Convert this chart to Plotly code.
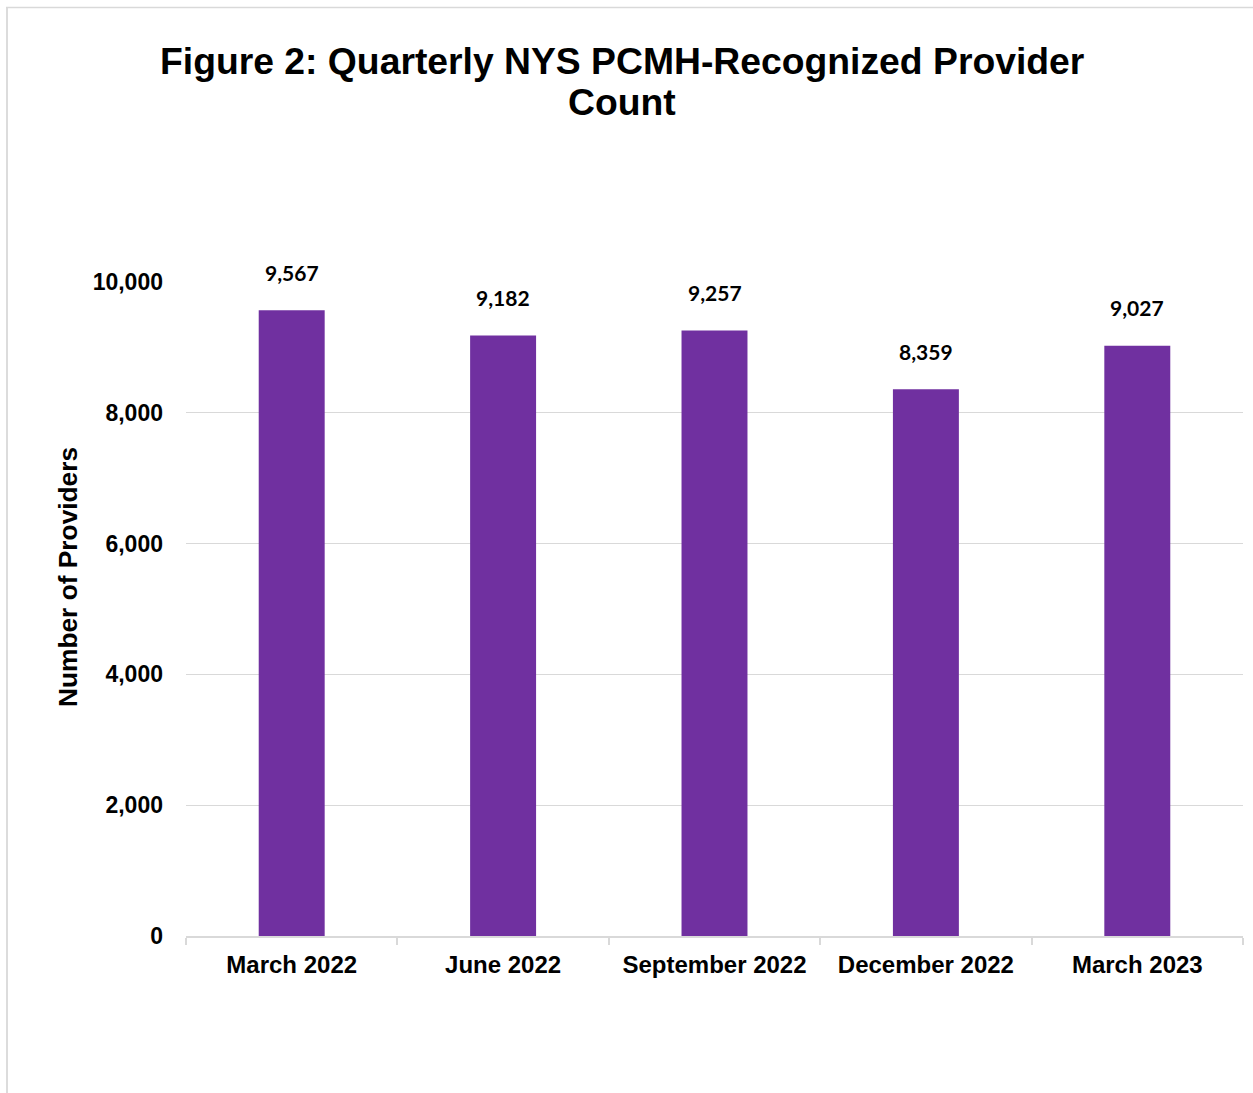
import plotly.graph_objects as go

categories = ["March 2022", "June 2022", "September 2022", "December 2022", "March 2023"]
providers = [9567, 9182, 9257, 8359, 9027]
y_ticks = [0, 2000, 4000, 6000, 8000, 10000]
y_tick_labels = ["0", "2,000", "4,000", "6,000", "8,000", "10,000"]
title_lines = ["Figure 2: Quarterly NYS PCMH-Recognized Provider", "Count"]
y_title = "Number of Providers"

W, H = 1253, 1093
L, R, T, B = 186, 1243, 282, 936
PW, PH = R - L, B - T


def px(xp):
    return (xp - L) / PW


def py(yp):
    return (B - yp) / PH


BAR_COLOR = "#7030A0"
GRID = "#d9d9d9"
ARIAL = "Liberation Sans, Arial, sans-serif"

fig = go.Figure()
fig.add_trace(go.Bar(
    x=categories, y=providers,
    marker=dict(color=BAR_COLOR, line=dict(width=0)),
    hoverinfo="x+y",
))

annotations = []
for c, v in zip(categories, providers):
    annotations.append(dict(
        x=c, y=v, xref="x", yref="y", text=f"{v:,}", showarrow=False,
        yanchor="middle", yshift=38,
        font=dict(family="Lato, Open Sans, sans-serif", size=21, color="#000000", weight="bold"),
    ))

for i, (line, ycen) in enumerate(zip(title_lines, [61, 102])):
    annotations.append(dict(
        x=px(622), y=py(ycen), xref="paper", yref="paper", text=f"<b>{line}</b>",
        showarrow=False, xanchor="center", yanchor="middle",
        font=dict(family=ARIAL, size=37.3, color="#000000"),
    ))

annotations.append(dict(
    x=px(68), y=py(577), xref="paper", yref="paper", text=f"<b>{y_title}</b>",
    showarrow=False, xanchor="center", yanchor="middle", textangle=-90,
    font=dict(family=ARIAL, size=26.3, color="#000000"),
))

shapes = [
    dict(type="line", xref="paper", yref="paper", x0=px(6), x1=px(W + 5), y0=py(7.5), y1=py(7.5),
         line=dict(color=GRID, width=1.5)),
    dict(type="line", xref="paper", yref="paper", x0=px(7), x1=px(7), y0=py(7.5), y1=py(H + 5),
         line=dict(color=GRID, width=1.8)),
]

fig.update_layout(
    width=W, height=H,
    margin=dict(l=L, r=W - R, t=T, b=H - B, pad=0),
    paper_bgcolor="white", plot_bgcolor="white",
    showlegend=False,
    bargap=0.688,
    annotations=annotations,
    shapes=shapes,
    xaxis=dict(
        type="category",
        showline=True, linecolor=GRID, linewidth=1.5,
        ticks="outside", tickson="boundaries", ticklen=7, tickcolor=GRID, tickwidth=1.5,
        ticklabelstandoff=6,
        tickfont=dict(family=ARIAL, size=24, color="#000000", weight="bold"),
        showgrid=False, zeroline=False, fixedrange=True,
    ),
    yaxis=dict(
        range=[0, 10000],
        tickvals=y_ticks, ticktext=y_tick_labels,
        tickfont=dict(family=ARIAL, size=23, color="#000000", weight="bold"),
        showgrid=True, gridcolor=GRID, gridwidth=1.3,
        zeroline=False, showline=False, ticks="", ticklabelstandoff=22,
        fixedrange=True,
    ),
)

fig.write_html(
    "out.html",
    config={"displayModeBar": False},
    post_script="document.body.style.margin='0';document.body.style.overflow='hidden';",
)
